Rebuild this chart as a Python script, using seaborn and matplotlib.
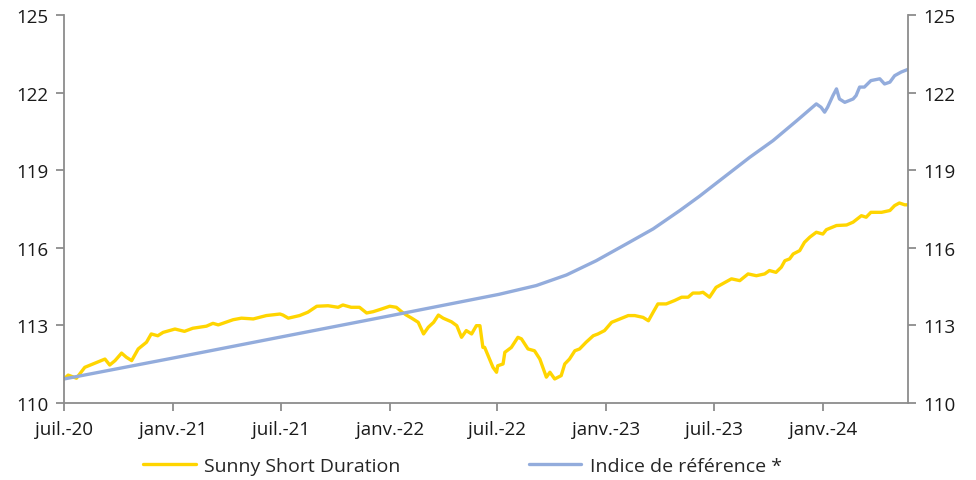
import pandas as pd
import seaborn as sns
import matplotlib.pyplot as plt

# Sunny Short Duration
fund_dates = [
    "2020-07-01", "2020-07-08", "2020-07-22", "2020-08-05", "2020-08-19", "2020-09-08",
    "2020-09-16", "2020-09-25", "2020-10-06", "2020-10-14", "2020-10-23", "2020-11-03",
    "2020-11-17", "2020-11-25", "2020-12-06", "2020-12-15", "2021-01-04", "2021-01-20",
    "2021-02-03", "2021-02-26", "2021-03-09", "2021-03-18", "2021-04-12", "2021-04-26",
    "2021-05-16", "2021-06-07", "2021-06-30", "2021-07-05", "2021-07-14", "2021-08-02",
    "2021-08-16", "2021-08-31", "2021-09-19", "2021-10-06", "2021-10-14", "2021-10-28",
    "2021-11-11", "2021-11-23", "2021-12-04", "2021-12-15", "2022-01-01", "2022-01-12",
    "2022-01-21", "2022-01-29", "2022-02-07", "2022-02-18", "2022-02-27", "2022-03-07",
    "2022-03-16", "2022-03-24", "2022-04-01", "2022-04-15", "2022-04-24", "2022-05-02",
    "2022-05-10", "2022-05-19", "2022-05-27", "2022-06-02", "2022-06-07", "2022-06-10",
    "2022-06-17", "2022-06-24", "2022-06-30", "2022-07-02", "2022-07-11", "2022-07-14",
    "2022-07-25", "2022-08-05", "2022-08-11", "2022-08-22", "2022-09-02", "2022-09-11",
    "2022-09-22", "2022-09-28", "2022-10-06", "2022-10-17", "2022-10-23", "2022-10-31",
    "2022-11-09", "2022-11-17", "2022-11-28", "2022-12-10", "2022-12-18", "2022-12-29",
    "2023-01-10", "2023-01-24", "2023-02-07", "2023-02-18", "2023-03-04", "2023-03-13",
    "2023-03-21", "2023-03-29", "2023-04-12", "2023-04-26", "2023-05-08", "2023-05-19",
    "2023-05-27", "2023-06-07", "2023-06-13", "2023-06-24", "2023-07-05", "2023-07-31",
    "2023-08-14", "2023-08-28", "2023-09-11", "2023-09-25", "2023-10-03", "2023-10-14",
    "2023-10-23", "2023-10-29", "2023-11-06", "2023-11-12", "2023-11-23", "2023-12-01",
    "2023-12-10", "2023-12-21", "2024-01-01", "2024-01-07", "2024-01-24", "2024-02-10",
    "2024-02-21", "2024-03-06", "2024-03-14", "2024-03-22", "2024-04-09", "2024-04-23",
    "2024-05-01", "2024-05-09", "2024-05-18", "2024-05-23",
]
fund_values = [
    110.93, 111.08, 110.96, 111.38, 111.51, 111.70,
    111.47, 111.64, 111.93, 111.77, 111.64, 112.09,
    112.35, 112.67, 112.60, 112.73, 112.86, 112.77,
    112.89, 112.97, 113.08, 113.02, 113.22, 113.28,
    113.25, 113.38, 113.44, 113.40, 113.28, 113.38,
    113.51, 113.74, 113.76, 113.70, 113.79, 113.70,
    113.70, 113.48, 113.53, 113.61, 113.74, 113.70,
    113.53, 113.40, 113.28, 113.12, 112.67, 112.93,
    113.12, 113.40, 113.28, 113.14, 112.99, 112.54,
    112.80, 112.67, 112.99, 112.99, 112.15, 112.15,
    111.77, 111.38, 111.19, 111.44, 111.51, 111.96,
    112.15, 112.54, 112.48, 112.09, 112.02, 111.70,
    111.00, 111.19, 110.93, 111.06, 111.51, 111.70,
    112.02, 112.09, 112.35, 112.60, 112.67, 112.80,
    113.12, 113.25, 113.38, 113.38, 113.31, 113.18,
    113.51, 113.83, 113.83, 113.96, 114.09, 114.09,
    114.25, 114.25, 114.28, 114.09, 114.47, 114.80,
    114.73, 114.99, 114.92, 114.99, 115.12, 115.05,
    115.25, 115.50, 115.57, 115.76, 115.89, 116.21,
    116.41, 116.60, 116.53, 116.70, 116.86, 116.88,
    116.99, 117.24, 117.18, 117.37, 117.37, 117.44,
    117.63, 117.73, 117.66, 117.66,
]

# Indice de référence
bench_dates = [
    "2020-07-01", "2021-01-01", "2021-07-01", "2022-01-01", "2022-07-04",
    "2022-09-05", "2022-10-26", "2022-12-15", "2023-02-04", "2023-03-21",
    "2023-05-05", "2023-06-07", "2023-06-30", "2023-08-31", "2023-10-09",
    "2023-11-18", "2023-12-21", "2023-12-29", "2024-01-04", "2024-01-09",
    "2024-01-18", "2024-01-24", "2024-01-29", "2024-02-07", "2024-02-21",
    "2024-02-26", "2024-03-03", "2024-03-11", "2024-03-22", "2024-04-06",
    "2024-04-14", "2024-04-23", "2024-05-01", "2024-05-12", "2024-05-23",
]
bench_values = [
    110.93, 111.74, 112.55, 113.37, 114.20,
    114.54, 114.95, 115.50, 116.15, 116.73,
    117.44, 117.99, 118.40, 119.50, 120.14,
    120.91, 121.56, 121.43, 121.24, 121.43,
    121.88, 122.14, 121.75, 121.62, 121.75,
    121.88, 122.21, 122.21, 122.46, 122.53,
    122.33, 122.40, 122.65, 122.79, 122.89,
]

tick_dates = ["2020-07-01", "2021-01-01", "2021-07-01", "2022-01-01",
              "2022-07-01", "2023-01-01", "2023-07-01", "2024-01-01"]
tick_labels = ["juil.-20", "janv.-21", "juil.-21", "janv.-22",
               "juil.-22", "janv.-23", "juil.-23", "janv.-24"]
y_ticks = [110, 113, 116, 119, 122, 125]

fund = pd.DataFrame({"date": pd.to_datetime(fund_dates), "value": fund_values})
bench = pd.DataFrame({"date": pd.to_datetime(bench_dates), "value": bench_values})

sns.set_style("white")
plt.rcParams["font.family"] = ["Open Sans", "DejaVu Sans"]

fig = plt.figure(figsize=(9.76, 4.81), dpi=100)
ax = fig.add_axes([0.0656, 0.160, 0.8644, 0.807])

sns.lineplot(data=fund, x="date", y="value", ax=ax, color="#FFD500",
             linewidth=2.4, label="Sunny Short Duration")
sns.lineplot(data=bench, x="date", y="value", ax=ax, color="#93ACDC",
             linewidth=2.4, label="Indice de référence *")

ax.set_xlim(fund["date"].iloc[0], fund["date"].iloc[-1])
ax.set_ylim(110, 125)
ax.set_yticks(y_ticks)
ax.set_xticks(pd.to_datetime(tick_dates))
ax.set_xticklabels(tick_labels)
ax.set_xlabel("")
ax.set_ylabel("")

grey = "#8C8C8C"
for side in ["left", "right", "bottom"]:
    ax.spines[side].set_color(grey)
    ax.spines[side].set_linewidth(1.3)
ax.spines["top"].set_visible(False)
ax.tick_params(axis="both", labelsize=13.5, colors=grey, labelcolor="#1a1a1a",
               length=6, width=1.3, direction="out")
ax.tick_params(axis="y", right=True, labelright=True, left=True, pad=5)
ax.tick_params(axis="x", bottom=True, pad=6)

handles, labels = ax.get_legend_handles_labels()
ax.get_legend().remove()
fig.legend(handles, labels, loc="lower center", bbox_to_anchor=(0.474, -0.025),
           ncol=2, frameon=False, fontsize=14, handlelength=2.7,
           columnspacing=6.6, handletextpad=0.45)

fig.savefig("out.png", dpi=100)
